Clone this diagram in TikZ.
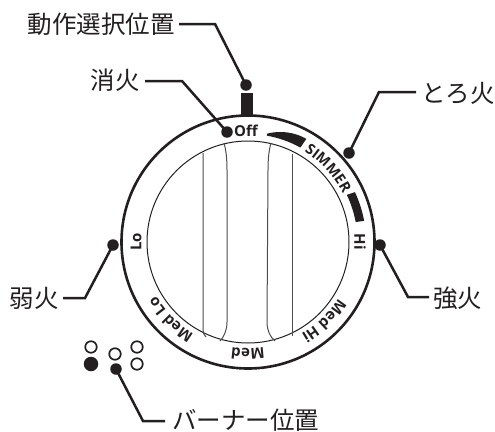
\documentclass[tikz,border=0pt]{standalone}
\usepackage{fontspec}
\usetikzlibrary{decorations.text}
\setmainfont{Open Sans}
\newfontfamily\jpfont{Noto Sans CJK JP}
\newfontfamily\dialfont{Open Sans}[Scale=1]
\definecolor{ink}{RGB}{35,31,32}
\newcommand{\dialtype}{\dialfont\fontsize{15}{16}\selectfont\bfseries}
\newcommand{\simtype}{\dialfont\fontsize{14.5}{16}\selectfont\bfseries}
\tikzset{
  caption/.style={font=\jpfont\fontsize{24.5}{26}\selectfont, text=ink, inner sep=0pt},
  leader/.style={draw=ink, line width=2.5pt, line join=miter},
  pin/.style={circle, fill=ink, inner sep=0pt, minimum size=11.5pt},
  burner/.style={circle, draw=ink, fill=white, line width=1.7pt, inner sep=0pt, minimum size=11.5pt},
  burneron/.style={circle, fill=ink, inner sep=0pt, minimum size=14.5pt},
  grip/.style={draw=ink!80, line width=1pt},
  dialtext/.style={font=\dialtype, text=ink, inner sep=0pt},
  along/.style={decorate, decoration={text along path, text align=center, text={|\dialtype\color{ink}|#1}}},
  alongsim/.style={decorate, decoration={text along path, text align=center, text={|\simtype\color{ink}|#1}}}
}
\begin{document}
\begin{tikzpicture}[x=1pt,y=-1pt]
\useasboundingbox (0,0) rectangle (495,431);
% selector bar
\fill[ink] (241,93) rectangle (253,117);
% dial
\begin{scope}[shift={(248,242)}, y=1pt]
  \draw[ink, line width=2.6pt, fill=white] (0,0) circle[radius=126.5];
  \draw[ink, line width=1pt] (0,0) circle[radius=101];
  % tapered mark
  \fill[ink] plot[domain=80:60.5, samples=20] (\x:{110+8.5*(1-((\x-60.5)/19.5)^2)})
     -- (61:108) arc[start angle=61, end angle=80, radius=108] -- cycle;
  \fill[ink] (25:118) arc[start angle=25, end angle=10.5, radius=119.5]
     -- (10.5:109.5) arc[start angle=10.5, end angle=25.5, radius=109.5] -- cycle;
  % dial texts
  \path[alongsim={SIMMER}] (62:106.5) arc[start angle=62, end angle=23, radius=106.5];
  \path[along={Med Hi}] (-23:106.5) arc[start angle=-23, end angle=-69, radius=106.5];
  \path[along={Med}] (-68:106.5) arc[start angle=-68, end angle=-112, radius=106.5];
  \path[along={Med Lo}] (-111:106.5) arc[start angle=-111, end angle=-159, radius=106.5];
  \node[dialtext, rotate=-90] (hi) at (0:112) {Hi};
  \node[dialtext, rotate=90] (lo) at (180:112) {Lo};
  \node[dialtext] (off) at (-2,111) {Off};
\end{scope}
% grips
\draw[grip] (203,153) -- (203,330) .. controls (203,333) and (204,335) .. (206,337);
\draw[grip] (224,143) .. controls (226,150) and (227,158) .. (227,170) -- (227,322) .. controls (227,330) and (224,337) .. (220,341);
\draw[grip] (271,143) .. controls (269,150) and (268,158) .. (268,170) -- (267,322) .. controls (267,330) and (270,337) .. (275,341);
\draw[grip] (292,154) -- (292,336);
% captions
\node[caption, anchor=east] (sel) at (175,24) {動作選択位置};
\node[caption, anchor=east] (offl) at (140,80) {消火};
\node[caption, anchor=west] (sim) at (421,93) {とろ火};
\node[caption, anchor=west] (high) at (433,298) {強火};
\node[caption, anchor=east] (low) at (59,298) {弱火};
\node[caption, anchor=west] (bn) at (172,420) {バーナー位置};
% pins
\node[pin] (pSel) at (246,85) {};
\node[pin] (pOff) at (227,132) {};
\node[pin] (pSim) at (349,153) {};
\node[pin] (pHigh) at (380,245) {};
\node[pin] (pLow) at (113,245) {};
\node[pin] (pBn) at (116,369) {};
% burner icons
\node[burner] (b1) at (91,347) {};
\node[burneron] (b2) at (91,364) {};
\node[burner] (b3) at (115,354) {};
\node[burner] (b4) at (137,347) {};
\node[burner] (b5) at (137,364) {};
% leaders
\coordinate (sA) at (179,24); \coordinate (sB) at (215,24);
\coordinate (oA) at (145,81); \coordinate (oB) at (182,81);
\coordinate (mA) at (416,92); \coordinate (mB) at (379,92);
\coordinate (hA) at (429,297); \coordinate (hB) at (408,297);
\coordinate (lA) at (63,298); \coordinate (lB) at (85,298);
\coordinate (nA) at (165,421); \coordinate (nB) at (143,421);
\draw[leader] (sA) -- (sB) -- (pSel.center);
\draw[leader] (oA) -- (oB) -- (pOff.center);
\draw[leader] (mA) -- (mB) -- (pSim.center);
\draw[leader] (hA) -- (hB) -- (pHigh.center);
\draw[leader] (lA) -- (lB) -- (pLow.center);
\draw[leader] (nA) -- (nB) -- (pBn.center);
\end{tikzpicture}
\end{document}
